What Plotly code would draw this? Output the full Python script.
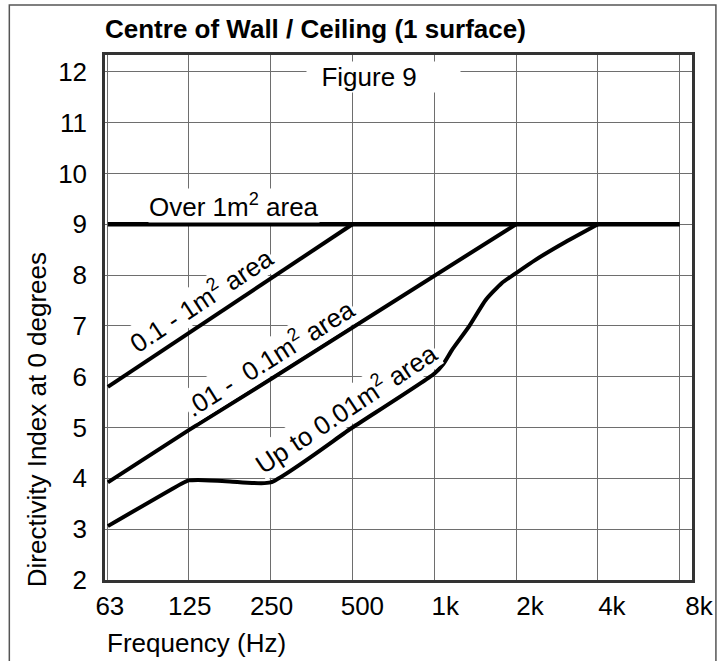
import math
import plotly.graph_objects as go

# ---------------- data ----------------
FREQ_TICKS = [63, 125, 250, 500, 1000, 2000, 4000, 8000]
FREQ_LABELS = ["63", "125", "250", "500", "1k", "2k", "4k", "8k"]
DI_TICKS = list(range(2, 13))

over_1m2_f = [63, 8000]
over_1m2_di = [9.0, 9.0]

area_01_1_f = [63, 125, 250, 500]
area_01_1_di = [5.80, 6.86, 7.93, 9.0]

area_001_01_f = [63, 125, 250, 500, 1000, 2000]
area_001_01_di = [3.92, 4.95, 5.95, 6.97, 7.98, 9.0]

upto_001_f = [63, 118, 125, 135, 177, 250, 500, 1000, 1080, 1160, 1339, 1546, 1770, 2000, 2358, 3040, 4000]
upto_001_di = [3.06, 3.90, 3.96, 3.97, 3.94, 3.92, 5.0, 6.06, 6.25, 6.52, 6.98, 7.51, 7.84, 8.04, 8.30, 8.65, 9.0]

TITLE = "Centre of Wall / Ceiling (1 surface)"
X_TITLE = "Frequency (Hz)"
Y_TITLE = "Directivity Index at 0 degrees"

# ---------------- styling ----------------
FONT = "Liberation Sans, Arial, Helvetica, sans-serif"
FS = 26
GRID = "#6e6e6e"
AXIS = "#333333"
OCT_PX = 82.1
X_RANGE = [math.log10(61.5), math.log10(8875)]
Y_RANGE = [2, 12.33]
# horizontal offset (px) of each frequency label from its grid line
LABEL_SHIFT_PX = [2, 1, 1, 10, 11, 14, 14, 12]
label_pos = [f * 2 ** (s / OCT_PX) for f, s in zip(FREQ_TICKS, LABEL_SHIFT_PX)]
label_text = FREQ_LABELS[:-1] + ["\u00a0\u00a0" + FREQ_LABELS[-1]]

fig = go.Figure()
line_style = dict(color="black", width=4)
fig.add_trace(go.Scatter(x=over_1m2_f, y=over_1m2_di, mode="lines", line=dict(color="black", width=4.5),
                         xaxis="x2", yaxis="y", hoverinfo="skip"))
fig.add_trace(go.Scatter(x=area_01_1_f, y=area_01_1_di, mode="lines", line=line_style, hoverinfo="skip"))
fig.add_trace(go.Scatter(x=area_001_01_f, y=area_001_01_di, mode="lines", line=line_style, hoverinfo="skip"))
fig.add_trace(go.Scatter(x=upto_001_f, y=upto_001_di, mode="lines",
                         line=dict(color="black", width=4, shape="spline", smoothing=0.5), hoverinfo="skip"))


def lx(f):
    return math.log10(f)


label_font = dict(family=FONT, size=FS, color="black")
ann = []
ann.append(dict(x=lx(183.6), y=9.36, xref="x", yref="y", text="Over 1m<sup>2</sup> area",
                showarrow=False, font=label_font, bgcolor="white", borderpad=0))
ann.append(dict(x=lx(140.7), y=7.45, xref="x", yref="y", text="0.1 - 1m<sup>2</sup> area",
                showarrow=False, font=label_font, bgcolor="white", borderpad=0, textangle=-33.5,
                xshift=-2, yshift=4))
ann.append(dict(x=lx(252), y=6.25, xref="x", yref="y", text=".01 -  0.1m<sup>2</sup> area",
                showarrow=False, font=label_font, bgcolor="white", borderpad=0, textangle=-32.2,
                xshift=-3, yshift=7))
ann.append(dict(x=lx(486), y=5.29, xref="x", yref="y", text="Up to 0.01m<sup>2</sup> area",
                showarrow=False, font=label_font, bgcolor="white", borderpad=0, textangle=-33.5,
                xshift=-3, yshift=5))
ann.append(dict(x=lx(338.2), y=11.90, xref="x", yref="y", xanchor="left", yanchor="middle",
                text="\u00a0\u00a0Figure 9" + "\u00a0" * 6,
                showarrow=False, font=label_font, bgcolor="white", borderpad=0))
ann.append(dict(x=(197 - 105) / 589, y=(580 - 643) / 525, xref="paper", yref="paper",
                xanchor="center", yanchor="middle",
                text=X_TITLE, showarrow=False, font=label_font))
ann.append(dict(x=(37 - 105) / 589, y=(580 - 420) / 525, xref="paper", yref="paper",
                xanchor="center", yanchor="middle",
                text=Y_TITLE, showarrow=False, font=label_font, textangle=-90))

fig.update_layout(
    width=726, height=661,
    margin=dict(l=105, r=32, t=55, b=81),
    paper_bgcolor="white", plot_bgcolor="white",
    showlegend=False,
    font=dict(family=FONT, size=FS, color="black"),
    title=dict(text="<b>" + TITLE + "</b>", x=105 / 726, xanchor="left", y=1 - 29 / 661, yanchor="middle",
               xref="container", font=dict(family=FONT, size=FS, color="black")),
    xaxis=dict(type="log", range=X_RANGE, tickvals=FREQ_TICKS, showticklabels=False, ticks="",
               showgrid=True, gridcolor=GRID, gridwidth=1, showline=True, linecolor=AXIS, linewidth=2.5,
               mirror=True, zeroline=False),
    xaxis2=dict(type="log", range=X_RANGE, overlaying="x", anchor="y", side="bottom",
                tickvals=label_pos, ticktext=label_text, ticks="", showgrid=False, showline=False,
                zeroline=False, tickfont=dict(family=FONT, size=FS, color="black"), ticklabelstandoff=8),
    yaxis=dict(range=Y_RANGE, tickvals=DI_TICKS, ticks="", showgrid=True, gridcolor=GRID, gridwidth=1,
               showline=True, linecolor=AXIS, linewidth=2.5, mirror=True, zeroline=False,
               tickfont=dict(family=FONT, size=FS, color="black"), ticklabelstandoff=10),
    annotations=ann,
    shapes=[dict(type="rect", xref="paper", yref="paper", x0=(9 - 105) / 589, x1=(718 - 105) / 589,
                 y0=(580 - 700) / 525, y1=(580 - 5) / 525, line=dict(color="#555555", width=1.5),
                 fillcolor="rgba(0,0,0,0)", layer="below")],
)

fig.write_html("out.html")
